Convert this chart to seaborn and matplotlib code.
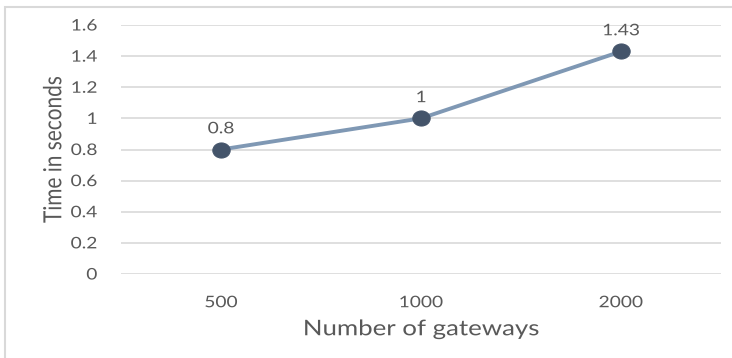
import matplotlib
matplotlib.use("Agg")
import matplotlib.pyplot as plt
import matplotlib.patches as mpatches
from matplotlib.patheffects import AbstractPathEffect
from matplotlib.transforms import Affine2D
from matplotlib.markers import MarkerStyle
from matplotlib.path import Path
import seaborn as sns
import pandas as pd

# Processing time per gateway count
gateways = ["500", "1000", "2000"]
seconds = [0.8, 1.0, 1.43]
value_labels = ["0.8", "1", "1.43"]
y_ticks = [0, 0.2, 0.4, 0.6, 0.8, 1.0, 1.2, 1.4, 1.6]
y_tick_labels = ["0", "0.2", "0.4", "0.6", "0.8", "1", "1.2", "1.4", "1.6"]


class WideText(AbstractPathEffect):
    """Draw text glyphs widened horizontally (screen x) about an anchor."""

    def __init__(self, sx=1.2, anchor="center"):
        super().__init__()
        self.sx = sx
        self.anchor = anchor

    def draw_path(self, renderer, gc, tpath, affine, rgbFace=None):
        xs = affine.transform(tpath.vertices)[:, 0]
        if self.anchor == "right":
            cx = xs.max()
        elif self.anchor == "left":
            cx = xs.min()
        else:
            cx = 0.5 * (xs.min() + xs.max())
        wide = Affine2D().translate(-cx, 0).scale(self.sx, 1).translate(cx, 0)
        renderer.draw_path(gc, tpath, affine + wide, rgbFace)


SX = 1.2
sns.set_theme(style="white")
plt.rcParams["font.family"] = ["Lato", "DejaVu Sans"]

W, H = 732, 358
fig = plt.figure(figsize=(W / 100, H / 100), dpi=100)
ax = fig.add_axes([121 / W, 84 / H, 600 / W, (274 - 25) / H])

# slightly wide oval marker
oval = Path.unit_circle().transformed(Affine2D().scale(1.15, 1.0))

df = pd.DataFrame({"gateways": gateways, "seconds": seconds})
sns.lineplot(data=df, x="gateways", y="seconds", ax=ax, color="#7F98B4",
             linewidth=2.8, marker=MarkerStyle(oval), markersize=12.5,
             markerfacecolor="#44546A", markeredgecolor="#44546A", zorder=3)

text_color = "#595959"
for i, (v, lab) in enumerate(zip(seconds, value_labels)):
    ax.annotate(lab, (i, v), xytext=(0, 9.5), textcoords="offset points",
                ha="center", va="bottom", fontsize=11.5, color=text_color,
                path_effects=[WideText(SX)])

ax.set_xlim(-0.5, len(gateways) - 0.5)
ax.set_ylim(0, 1.6)
ax.set_yticks(y_ticks)
ax.set_yticklabels(y_tick_labels)
ax.yaxis.grid(True, color="#D9D9D9", linewidth=1.2)
ax.set_axisbelow(True)
for s in ax.spines.values():
    s.set_visible(False)
ax.tick_params(axis="both", length=0, labelsize=11.5, labelcolor=text_color)
ax.tick_params(axis="y", pad=17)
ax.tick_params(axis="x", pad=16)
for t in ax.get_yticklabels():
    t.set_path_effects([WideText(SX, "right")])
for t in ax.get_xticklabels():
    t.set_path_effects([WideText(SX)])

ax.set_xlabel("Number of gateways", fontsize=15.5, color=text_color, labelpad=6.5)
ax.set_ylabel("Time in seconds", fontsize=15, color=text_color, labelpad=8)
ax.xaxis.label.set_path_effects([WideText(SX)])
ax.yaxis.label.set_path_effects([WideText(SX)])

# Chart frame (top and left edges visible)
fig.patches.append(mpatches.Rectangle((4.5 / W, -0.1), 1.2, (H - 6.5) / H + 0.1,
                                      transform=fig.transFigure, fill=False,
                                      edgecolor="#D9D9D9", linewidth=1.5))

fig.savefig("out.png", dpi=100)
